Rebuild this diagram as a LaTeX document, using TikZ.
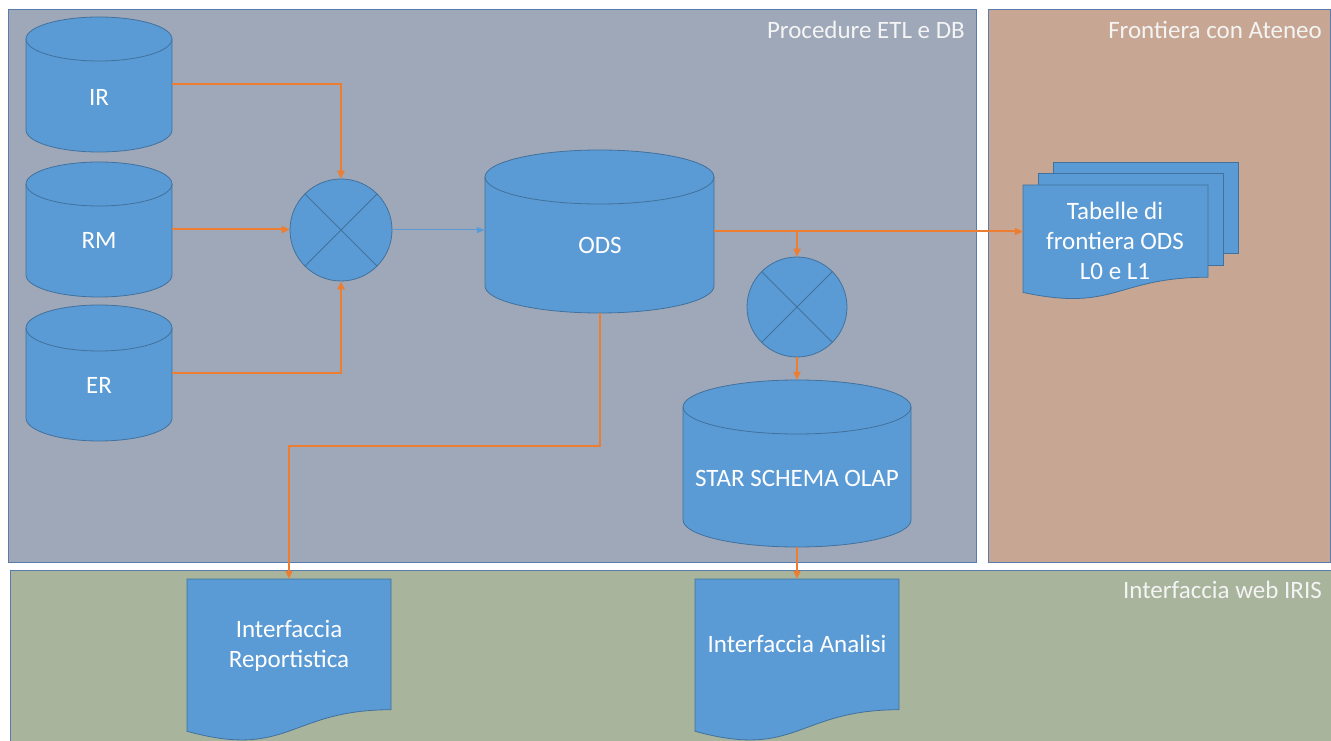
\documentclass[tikz,border=0pt]{standalone}
\usepackage{fontspec}
\setmainfont{Carlito}
\usetikzlibrary{arrows.meta}
\definecolor{pone}{HTML}{9EA8B9}
\definecolor{ptwo}{HTML}{C7A793}
\definecolor{pthree}{HTML}{A8B49C}
\definecolor{panelline}{HTML}{5A7BAE}
\definecolor{dbblue}{HTML}{5B9BD5}
\definecolor{dbline}{HTML}{41719C}
\definecolor{orangeline}{HTML}{ED7D31}
\definecolor{titlewhite}{HTML}{F4F4F4}
\tikzset{
  panel/.style={line width=0.9pt, draw=panelline},
  cyl/.style={fill=dbblue, draw=dbline, line width=0.8pt},
  shapebox/.style={draw=none, inner sep=0pt, rectangle},
  page/.style={rectangle, fill=dbblue, draw=dbline, line width=0.8pt, inner sep=0pt},
  lbl/.style={text=white, font=\fontsize{25}{30}\selectfont, align=center, inner sep=0pt},
  ttl/.style={text=titlewhite, font=\fontsize{25}{30}\selectfont, anchor=east, inner sep=0pt},
  flow/.style={draw=orangeline, line width=2pt, -{Triangle[length=8pt,width=7pt]}},
  thinflow/.style={draw=dbblue, line width=1pt, -{Triangle[length=8pt,width=6pt]}},
  merge/.style={circle, fill=dbblue, draw=dbline, line width=0.8pt, inner sep=0pt},
}
\newcommand\dbcyl[6]{%
  \filldraw[cyl] ({#2-#5},{#3-#6}) -- ({#2-#5},{#4+#6}) arc[start angle=180,end angle=360,x radius=#5pt,y radius=#6pt] -- ({#2+#5},{#3-#6}) arc[start angle=0,end angle=180,x radius=#5pt,y radius=#6pt] -- cycle;
  \draw[cyl, fill=none] ({#2-#5},{#3-#6}) arc[start angle=180,end angle=360,x radius=#5pt,y radius=#6pt];
  \node[shapebox, minimum width={2*#5}, minimum height={#3-#4}] (#1) at (#2,{(#3+#4)/2}) {};
}
\newcommand\docshape[5]{%
  \filldraw[cyl] (#2,#4) -- (#3,#4) -- (#3,{#4-0.802*#5}) .. controls ({(#2+#3)/2},{#4-0.802*#5}) and ({(#2+#3)/2},{#4-1.1075*#5}) .. (#2,{#4-0.934*#5}) -- cycle;
  \node[shapebox, minimum width={#3-#2}, minimum height={#5}] (#1) at ({(#2+#3)/2},{#4-#5/2}) {};
}
\begin{document}
\begin{tikzpicture}[x=1pt,y=1pt]
\useasboundingbox (0,0) rectangle (1331,740);
\clip (0,0) rectangle (1331,740);
\fill[white] (0,0) rectangle (1331,740);
% panels
\filldraw[panel, fill=pone] (8,178) rectangle (976,731);
\filldraw[panel, fill=ptwo] (988,178) rectangle (1330,731);
\filldraw[panel, fill=pthree] (10,-5) rectangle (1336,170);
\node[ttl] (t1) at (965,710) {Procedure ETL e DB};
\node[ttl] (t2) at (1322,710) {Frontiera con Ateneo};
\node[ttl] (t3) at (1322,150) {Interfaccia web IRIS};
% databases
\dbcyl{IR}{99}{723}{588}{73}{22}
\dbcyl{RM}{99}{578}{443}{73}{22}
\dbcyl{ER}{99}{435}{299}{73}{23}
\dbcyl{ODS}{599.5}{590}{427}{114.5}{27}
\dbcyl{STAR}{797}{360}{193}{114}{27}
\node[lbl] (IRl) at (99,643) {IR};
\node[lbl] (RMl) at (99,500) {RM};
\node[lbl] (ERl) at (99,355) {ER};
\node[lbl] (ODSl) at (600,495) {ODS};
\node[lbl] (STARl) at (797,262) {STAR SCHEMA OLAP};
% merge circles
\node[merge, minimum size=102pt] (M1) at (341,510) {};
\draw[dbline, line width=0.8pt] (M1.north east) -- (M1.south west) (M1.north west) -- (M1.south east);
\node[merge, minimum size=100pt] (M2) at (797,433) {};
\draw[dbline, line width=0.8pt] (M2.north east) -- (M2.south west) (M2.north west) -- (M2.south east);
% documents
\node[page, minimum width=185pt, minimum height=91pt] (TAB3) at (1145.5,532.5) {};
\node[page, minimum width=185pt, minimum height=92pt] (TAB2) at (1130.5,521) {};
\docshape{TAB}{1023}{1208}{555}{115}
\node[lbl] (TABl) at (1115,499) {Tabelle di\\frontiera ODS\\L0 e L1};
\docshape{REP}{187}{391}{161}{163}
\docshape{AN}{695}{899}{161}{163}
\node[lbl] (REPl) at (289,94) {Interfaccia\\Reportistica};
\node[lbl] (ANl) at (797,96) {Interfaccia Analisi};
% connectors
\draw[flow] (IR.east) -| (M1.north);
\draw[flow] (RM.east) -- (RM.east -| M1.west);
\draw[flow] (ER.east) -| (M1.south);
\draw[thinflow] (M1.east) -- (M1.east -| ODS.west);
\draw[flow] (ODS.east) -- (ODS.east -| TAB.west);
\coordinate (split) at (ODS.east -| M2.north);
\draw[flow] (split) -- (M2.north);
\draw[flow] (M2.south) -- (STAR.north);
\draw[flow] (STAR.south) -- (AN.north);
\coordinate (bend) at (600,294);
\draw[flow] (ODS.south) -- (ODS.south |- bend) -| (REP.north);
\end{tikzpicture}
\end{document}
